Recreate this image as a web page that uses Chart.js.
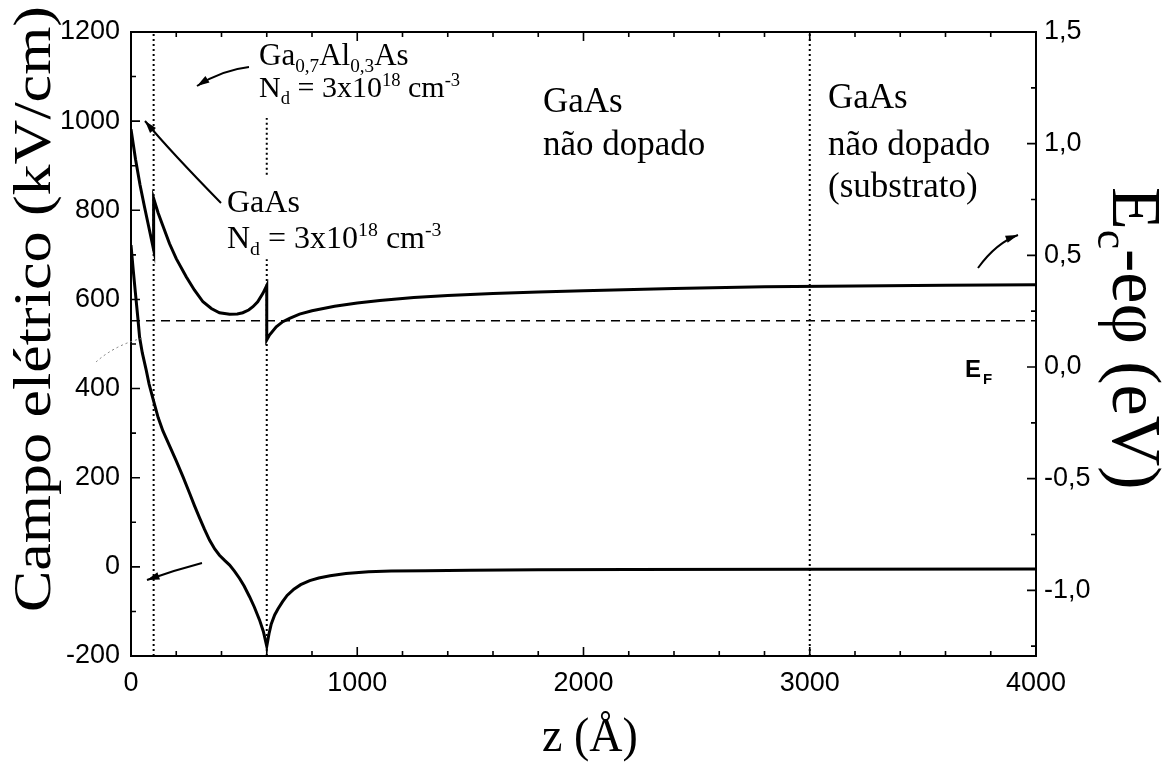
<!DOCTYPE html>
<html>
<head>
<meta charset="utf-8">
<script src="https://cdn.jsdelivr.net/npm/chart.js@4.4.1/dist/chart.umd.min.js"></script>
<style>
  html, body { margin: 0; padding: 0; background: #fff; overflow: hidden; }
</style>
</head>
<body>
<canvas id="grafico" width="1167" height="763"></canvas>
<script>
// campo elétrico (kV/cm) ao longo de z (Å)
const zCampo = [0, 10, 20, 30, 38, 50, 67, 80, 100, 120, 141, 170, 200, 230, 259, 280, 303, 325, 347, 370, 391, 415, 436, 458, 480, 500, 524, 545, 568, 585, 600,
  610, 620, 635, 650, 670, 690, 720, 750, 790, 830, 880, 950, 1050, 1150, 1300, 1500, 1800, 2200, 3000, 4000];
const campo = [722, 665, 612, 560, 515, 480, 442, 410, 372, 335, 305, 272, 238, 202, 165, 138, 110, 84, 60, 40, 26, 14, 4, -10, -26, -43, -67, -90, -119, -145, -178,
  -150, -128, -108, -94, -78, -64, -50, -40, -31, -25, -20, -15, -11, -9.5, -8.5, -7.5, -6.5, -6, -5.5, -5];

// perfil da banda de condução Ec - eφ (eV)
const zBanda = [0, 20, 40, 60, 80, 100, 100, 120, 140, 170, 200, 244, 280, 318, 355, 391, 436, 470, 494, 520, 539, 560, 583, 600,
  600, 612, 642, 671, 701, 745, 800, 900, 1000, 1100, 1250, 1400, 1600, 1800, 2000, 2400, 2800, 3200, 3600, 4000];
const banda = [1.065, 0.93, 0.815, 0.715, 0.62, 0.525, 0.755, 0.69, 0.635, 0.553, 0.485, 0.404, 0.345, 0.292, 0.262, 0.243, 0.236, 0.237, 0.243, 0.255, 0.27, 0.292, 0.33, 0.365,
  0.121, 0.143, 0.18, 0.203, 0.218, 0.237, 0.252, 0.272, 0.287, 0.298, 0.311, 0.32, 0.329, 0.336, 0.341, 0.351, 0.359, 0.363, 0.366, 0.368];

const nivelFermi = 0.207;          // eV
const interfaces = [100, 600, 3000];

const zTicks = [0, 1000, 2000, 3000, 4000];
const campoTicks = [-200, 0, 200, 400, 600, 800, 1000, 1200];
const energiaTicks = [-1.0, -0.5, 0.0, 0.5, 1.0, 1.5];

const serif = "'Liberation Serif', 'Times New Roman', serif";
const sans = "'Liberation Sans', Arial, sans-serif";

const pontos = (xs, ys) => xs.map((x, i) => ({ x: x, y: ys[i] }));

function pontilhado(z, y0, y1) {
  return {
    data: [{ x: z, y: y0 }, { x: z, y: y1 }],
    yAxisID: 'y', showLine: true, pointRadius: 0,
    borderColor: '#000', borderWidth: 2, borderDash: [2, 3]
  };
}

// texto com índices e expoentes
function escreve(ctx, x, y, partes, tam, familia) {
  let cx = x;
  for (const p of partes) {
    const t = typeof p === 'string' ? { t: p } : p;
    const s = (t.sub || t.sup) ? tam * 0.62 : tam;
    const dy = t.sub ? tam * 0.22 : t.sup ? -tam * 0.38 : 0;
    ctx.font = s + 'px ' + familia;
    ctx.fillText(t.t, cx, y + dy);
    cx += ctx.measureText(t.t).width;
  }
}

function seta(ctx, x0, y0, cx, cy, x1, y1) {
  ctx.beginPath();
  ctx.moveTo(x0, y0);
  ctx.quadraticCurveTo(cx, cy, x1, y1);
  ctx.stroke();
  const ang = Math.atan2(y1 - cy, x1 - cx);
  ctx.beginPath();
  ctx.moveTo(x1, y1);
  ctx.lineTo(x1 - 13 * Math.cos(ang - 0.3), y1 - 13 * Math.sin(ang - 0.3));
  ctx.lineTo(x1 - 13 * Math.cos(ang + 0.3), y1 - 13 * Math.sin(ang + 0.3));
  ctx.closePath();
  ctx.fill();
}

// moldura e marcas de escala para dentro
const moldura = {
  id: 'moldura',
  afterDatasetsDraw(chart) {
    const { ctx, chartArea: a, scales } = chart;
    ctx.save();
    ctx.strokeStyle = '#000';
    ctx.lineWidth = 2;
    ctx.strokeRect(a.left, a.top, a.right - a.left, a.bottom - a.top);
    ctx.lineWidth = 1.6;
    ctx.beginPath();
    for (let v = 0; v <= 4000; v += 200) {
      const px = scales.x.getPixelForValue(v);
      const L = v % 1000 === 0 ? 9 : 5;
      ctx.moveTo(px, a.bottom); ctx.lineTo(px, a.bottom - L);
      ctx.moveTo(px, a.top); ctx.lineTo(px, a.top + L);
    }
    for (let v = -200; v <= 1200; v += 100) {
      const py = scales.y.getPixelForValue(v);
      const L = v % 200 === 0 ? 9 : 5;
      ctx.moveTo(a.left, py); ctx.lineTo(a.left + L, py);
    }
    for (let v = -1.25; v <= 1.5; v += 0.25) {
      const py = scales.y1.getPixelForValue(v);
      const L = v % 0.5 === 0 ? 9 : 5;
      ctx.moveTo(a.right, py); ctx.lineTo(a.right - L, py);
    }
    ctx.stroke();
    ctx.restore();
  }
};

const textos = {
  id: 'textos',
  afterDraw(chart) {
    const ctx = chart.ctx;
    ctx.save();
    ctx.fillStyle = '#000';
    ctx.strokeStyle = '#000';
    ctx.textBaseline = 'alphabetic';
    ctx.textAlign = 'left';

    escreve(ctx, 259, 65, ['Ga', { t: '0,7', sub: true }, 'Al', { t: '0,3', sub: true }, 'As'], 31, serif);
    escreve(ctx, 259, 97, ['N', { t: 'd', sub: true }, ' = 3x10', { t: '18', sup: true }, ' cm', { t: '-3', sup: true }], 30, serif);
    escreve(ctx, 227, 212, ['GaAs'], 32, serif);
    escreve(ctx, 227, 248, ['N', { t: 'd', sub: true }, ' = 3x10', { t: '18', sup: true }, ' cm', { t: '-3', sup: true }], 32, serif);
    escreve(ctx, 543, 112, ['GaAs'], 35, serif);
    escreve(ctx, 543, 155, ['não dopado'], 35, serif);
    escreve(ctx, 828, 108, ['GaAs'], 35, serif);
    escreve(ctx, 828, 155, ['não dopado'], 35, serif);
    escreve(ctx, 828, 197, ['(substrato)'], 35, serif);

    ctx.font = 'bold 24px ' + sans;
    ctx.fillText('E', 965, 377);
    ctx.font = 'bold 15px ' + sans;
    ctx.fillText('F', 983, 384);

    // setas
    ctx.lineWidth = 2;
    seta(ctx, 249, 67, 222, 70, 197, 86);
    seta(ctx, 221, 203, 171, 152, 145, 121);
    seta(ctx, 202, 563, 175, 570, 147, 580);
    seta(ctx, 978, 268, 996, 243, 1018, 235);

    ctx.save();
    ctx.lineWidth = 1;
    ctx.strokeStyle = '#777';
    ctx.setLineDash([2, 3]);
    ctx.beginPath();
    ctx.moveTo(96, 362);
    ctx.quadraticCurveTo(115, 345, 143, 338);
    ctx.stroke();
    ctx.restore();

    // título do eixo esquerdo
    ctx.save();
    ctx.translate(50, 612);
    ctx.rotate(-Math.PI / 2);
    ctx.font = '53px ' + serif;
    const tEsq = 'Campo elétrico (kV/cm)';
    ctx.scale(606 / ctx.measureText(tEsq).width, 1);
    ctx.fillText(tEsq, 0, 0);
    ctx.restore();

    // título do eixo direito
    ctx.save();
    ctx.translate(1113, 187);
    ctx.rotate(Math.PI / 2);
    escreve(ctx, 0, 0, ['E', { t: 'c', sub: true }, '-eφ (eV)'], 70, serif);
    ctx.restore();

    // título do eixo z
    ctx.save();
    ctx.translate(590, 751);
    ctx.scale(1, 1.05);
    ctx.textAlign = 'center';
    ctx.font = '46px ' + serif;
    ctx.fillText('z (Å)', 0, 0);
    ctx.restore();

    ctx.restore();
  }
};

const fonteTicks = { family: sans, size: 27 };

new Chart(document.getElementById('grafico'), {
  type: 'scatter',
  data: {
    datasets: [
      { data: pontos(zCampo, campo), yAxisID: 'y', showLine: true, pointRadius: 0, borderColor: '#000', borderWidth: 3 },
      { data: pontos(zBanda, banda), yAxisID: 'y1', showLine: true, pointRadius: 0, borderColor: '#000', borderWidth: 3 },
      {
        data: [{ x: 0, y: nivelFermi }, { x: 4000, y: nivelFermi }], yAxisID: 'y1', showLine: true, pointRadius: 0,
        borderColor: '#000', borderWidth: 1.6, borderDash: [9, 6]
      },
      pontilhado(interfaces[0], -200, 1200),
      pontilhado(interfaces[1], 880, 1007),
      pontilhado(interfaces[1], -200, 690),
      pontilhado(interfaces[2], -200, 1200)
    ]
  },
  options: {
    responsive: false,
    animation: false,
    devicePixelRatio: 1,
    layout: { padding: { top: 32, left: 0, right: 0, bottom: 0 } },
    plugins: { legend: { display: false }, tooltip: { enabled: false } },
    scales: {
      x: {
        type: 'linear', min: 0, max: 4000,
        afterFit: s => { s.height = 107; },
        afterBuildTicks: s => { s.ticks = zTicks.map(v => ({ value: v })); },
        grid: { display: false, drawTicks: false }, border: { display: false },
        ticks: { font: fonteTicks, color: '#000', padding: 11, maxRotation: 0, callback: v => String(v) }
      },
      y: {
        type: 'linear', position: 'left', min: -200, max: 1200,
        afterFit: s => { s.width = 131; },
        afterBuildTicks: s => { s.ticks = campoTicks.map(v => ({ value: v })); },
        grid: { display: false, drawTicks: false }, border: { display: false },
        ticks: { font: fonteTicks, color: '#000', padding: 11, callback: v => String(v) }
      },
      y1: {
        type: 'linear', position: 'right', min: -1.294, max: 1.5,
        afterFit: s => { s.width = 131; },
        afterBuildTicks: s => { s.ticks = energiaTicks.map(v => ({ value: v })); },
        grid: { display: false, drawTicks: false }, border: { display: false },
        ticks: { font: fonteTicks, color: '#000', padding: 8, callback: v => v.toFixed(1).replace('.', ',') }
      }
    }
  },
  plugins: [moldura, textos]
});
</script>
</body>
</html>
